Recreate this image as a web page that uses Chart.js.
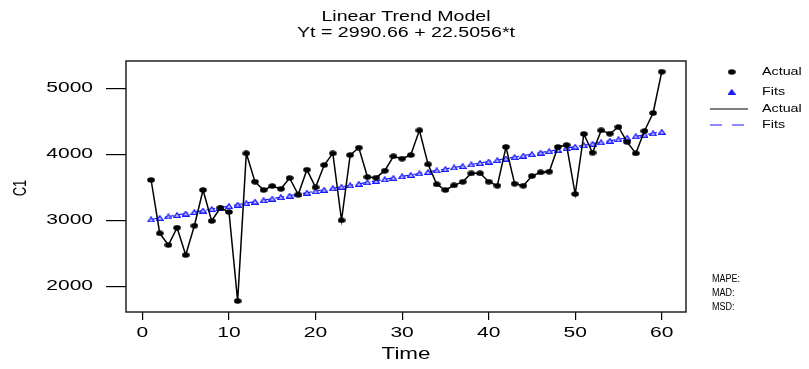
<!DOCTYPE html>
<html>
<head>
<meta charset="utf-8">
<script src="https://cdn.jsdelivr.net/npm/chart.js@4.4.0/dist/chart.umd.min.js"></script>
<style>
html, body { margin: 0; padding: 0; background: #fff; }
</style>
</head>
<body>
<canvas id="trend" width="809" height="369"></canvas>
<script>
var zeiten = [];
for (var t = 1; t <= 60; t++) zeiten.push(t);

var actual = [3611, 2803, 2626, 2888, 2474, 2918, 3459, 2990, 3191, 3126,
              1777, 4015, 3585, 3459, 3520, 3477, 3641, 3390, 3767, 3500,
              3838, 4015, 3000, 3989, 4100, 3656, 3646, 3752, 3970, 3934,
              3989, 4363, 3848, 3545, 3459, 3530, 3583, 3712, 3712, 3585,
              3524, 4111, 3555, 3524, 3671, 3727, 3737, 4111, 4141, 3398,
              4308, 4024, 4363, 4312, 4414, 4186, 4015, 4353, 4626, 5252];

// Yt = 2990.66 + 22.5056*t
var fits = [3013, 3036, 3058, 3081, 3103, 3126, 3148, 3171, 3193, 3216,
            3238, 3261, 3283, 3306, 3328, 3351, 3373, 3396, 3418, 3441,
            3463, 3486, 3508, 3531, 3553, 3576, 3598, 3621, 3643, 3666,
            3688, 3711, 3733, 3756, 3778, 3801, 3823, 3846, 3868, 3891,
            3913, 3936, 3958, 3981, 4003, 4026, 4048, 4071, 4093, 4116,
            4138, 4161, 4183, 4206, 4228, 4251, 4273, 4296, 4318, 4341];

var x_ticks = [0, 10, 20, 30, 40, 50, 60];
var y_ticks = [2000, 3000, 4000, 5000];

var schrift = '"Liberation Sans", Arial, sans-serif';
var stretch = 1.4; // das Bild ist in x-Richtung gestreckt

function make_dot() {
    var c = document.createElement('canvas');
    c.width = 8; c.height = 6;
    var g = c.getContext('2d');
    g.fillStyle = '#000';
    g.beginPath();
    g.ellipse(4, 3, 3.8, 2.7, 0, 0, 2 * Math.PI);
    g.fill();
    return c;
}

function make_triangle(voll) {
    var c = document.createElement('canvas');
    c.width = 8; c.height = 6;
    var g = c.getContext('2d');
    g.fillStyle = voll ? '#1a1aff' : '#c8c8ff';
    g.strokeStyle = '#1a1aff';
    g.lineWidth = 1.3;
    g.beginPath();
    g.moveTo(4, 0.8);
    g.lineTo(7.3, 5.3);
    g.lineTo(0.7, 5.3);
    g.closePath();
    g.fill();
    g.stroke();
    return c;
}

var dot = make_dot();
var triangle = make_triangle(false);
var triangle_legende = make_triangle(true);

function schreibe(ctx, txt, x, y, size, sx, align) {
    ctx.save();
    ctx.font = size + 'px ' + schrift;
    ctx.fillStyle = '#000';
    ctx.textBaseline = 'middle';
    ctx.textAlign = align || 'center';
    ctx.translate(x, y);
    ctx.scale(sx, 1);
    ctx.fillText(txt, 0, 0);
    ctx.restore();
}

var texte = {
    id: 'texte',
    afterDraw: function(chart) {
        var ctx = chart.ctx;
        var area = chart.chartArea;

        // Rahmen
        ctx.save();
        ctx.strokeStyle = '#222';
        ctx.lineWidth = 1.5;
        ctx.strokeRect(area.left, area.top, area.right - area.left, area.bottom - area.top);
        ctx.restore();

        // Tick-Beschriftung
        var xs = chart.scales.x;
        var ys = chart.scales.y;
        for (var i = 0; i < x_ticks.length; i++) {
            schreibe(ctx, String(x_ticks[i]), xs.getPixelForValue(x_ticks[i]), 333, 15, stretch, 'center');
        }
        for (var j = 0; j < y_ticks.length; j++) {
            schreibe(ctx, String(y_ticks[j]), 93, ys.getPixelForValue(y_ticks[j]), 15, stretch, 'right');
        }

        // Titel
        schreibe(ctx, 'Linear Trend Model', 406, 17, 14, stretch, 'center');
        schreibe(ctx, 'Yt = 2990.66 + 22.5056*t', 406, 33, 14, stretch, 'center');

        // Achsentitel
        schreibe(ctx, 'Time', 406, 355, 16, stretch, 'center');
        ctx.save();
        ctx.translate(21, 188);
        ctx.scale(stretch, 1);
        ctx.rotate(-Math.PI / 2);
        ctx.font = '13px ' + schrift;
        ctx.fillStyle = '#000';
        ctx.textAlign = 'center';
        ctx.textBaseline = 'middle';
        ctx.fillText('C1', 0, 0);
        ctx.restore();

        // Legende
        ctx.drawImage(dot, 731.7 - 4, 72 - 3);
        schreibe(ctx, 'Actual', 762, 72, 11, 1.3, 'left');
        ctx.drawImage(triangle_legende, 731.7 - 4, 92 - 3);
        schreibe(ctx, 'Fits', 762, 92, 11, 1.3, 'left');
        ctx.save();
        ctx.strokeStyle = '#000';
        ctx.lineWidth = 1.2;
        ctx.beginPath();
        ctx.moveTo(710, 109);
        ctx.lineTo(748, 109);
        ctx.stroke();
        ctx.strokeStyle = '#1a1aff';
        ctx.setLineDash([12, 10]);
        ctx.beginPath();
        ctx.moveTo(710, 125);
        ctx.lineTo(748, 125);
        ctx.stroke();
        ctx.restore();
        schreibe(ctx, 'Actual', 762, 109, 11, 1.3, 'left');
        schreibe(ctx, 'Fits', 762, 125, 11, 1.3, 'left');

        // Kennzahlen
        schreibe(ctx, 'MAPE:', 712, 279, 10, 0.9, 'left');
        schreibe(ctx, 'MAD:', 712, 293, 10, 0.9, 'left');
        schreibe(ctx, 'MSD:', 712, 307, 10, 0.9, 'left');
    }
};

var ctx = document.getElementById('trend').getContext('2d');
var myChart = new Chart(ctx, {
    type: 'line',
    data: {
        datasets: [
        {
            label: 'Actual',
            data: zeiten.map(function(t, i) { return { x: t, y: actual[i] }; }),
            borderColor: '#000',
            borderWidth: 1.5,
            pointStyle: dot,
            pointRadius: 4,
            tension: 0
        },
        {
            label: 'Fits',
            data: zeiten.map(function(t, i) { return { x: t, y: fits[i] }; }),
            borderColor: '#1a1aff',
            borderWidth: 1.2,
            borderDash: [9, 5],
            pointStyle: triangle,
            pointRadius: 3,
            tension: 0
        }
        ]
    },
    options: {
        responsive: false,
        animation: false,
        layout: { padding: { top: 61, right: 123, left: 0, bottom: 0 } },
        plugins: {
            legend: { display: false },
            title: { display: false },
            tooltip: { enabled: false }
        },
        scales: {
            x: {
                type: 'linear',
                min: -1.9,
                max: 62.8,
                afterBuildTicks: function(s) { s.ticks = x_ticks.map(function(v) { return { value: v }; }); },
                afterFit: function(s) { s.height = 57; },
                border: { display: false },
                grid: { drawOnChartArea: false, drawTicks: true, tickLength: 8, color: '#000', tickColor: '#000', lineWidth: 1.2 },
                ticks: { display: false }
            },
            y: {
                type: 'linear',
                min: 1611,
                max: 5414,
                afterBuildTicks: function(s) { s.ticks = y_ticks.map(function(v) { return { value: v }; }); },
                afterFit: function(s) { s.width = 126; },
                border: { display: false },
                grid: { drawOnChartArea: false, drawTicks: true, tickLength: 20, color: '#000', tickColor: '#000', lineWidth: 1.2 },
                ticks: { display: false }
            }
        }
    },
    plugins: [texte]
});
</script>
</body>
</html>
